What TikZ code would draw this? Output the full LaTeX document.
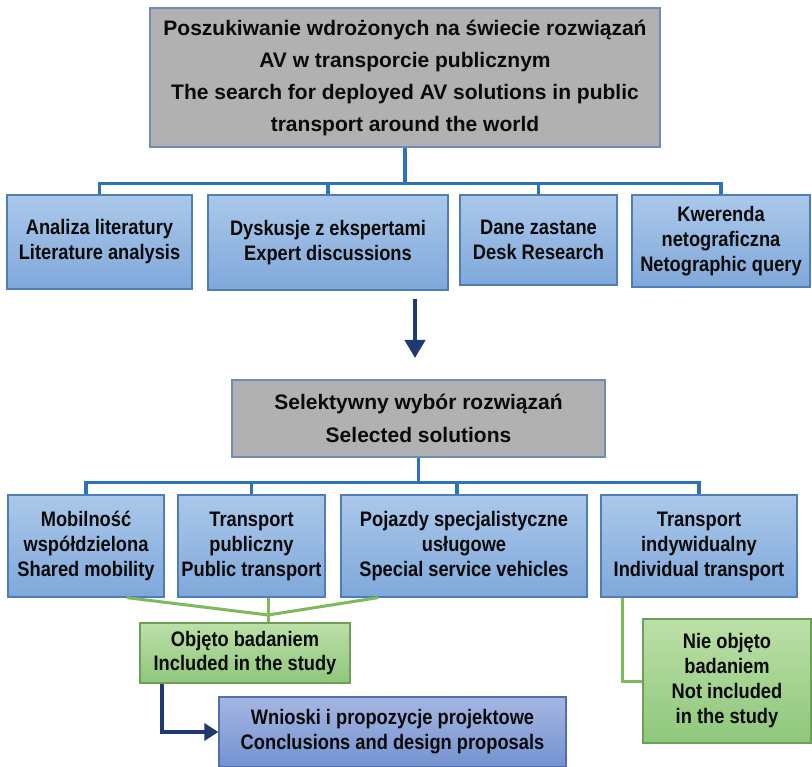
\documentclass[tikz,border=0pt]{standalone}
\usepackage{fontspec}
\setmainfont{Liberation Sans}
\newfontfamily\narrowfont{Liberation Sans}[FakeStretch=0.87]
\usetikzlibrary{arrows.meta,calc}
\definecolor{grayfill}{HTML}{B1B1B1}
\definecolor{grayedge}{HTML}{6F8DB3}
\definecolor{bluetop}{HTML}{ABC8EA}
\definecolor{bluebot}{HTML}{7FA8DA}
\definecolor{blueedge}{HTML}{4F7DB8}
\definecolor{greentop}{HTML}{BCE0A8}
\definecolor{greenbot}{HTML}{8EC77B}
\definecolor{greenedge}{HTML}{6E9F58}
\definecolor{purptop}{HTML}{A5B6E2}
\definecolor{purpbot}{HTML}{7492D0}
\definecolor{purpedge}{HTML}{4F6FAE}
\definecolor{bluewire}{HTML}{2E73B8}
\definecolor{greenwire}{HTML}{7DBA5C}
\definecolor{navy}{HTML}{1F3A6E}
\definecolor{txt}{HTML}{0A0A0A}
\begin{document}
\begin{tikzpicture}[x=1pt,y=-1pt,
  basebox/.style={draw, line width=1.3pt, align=center, text=txt, inner sep=0pt},
  graybox/.style={basebox, fill=grayfill, draw=grayedge, font=\fontsize{21}{32}\selectfont\bfseries},
  bluebox/.style={basebox, top color=bluetop, bottom color=bluebot, draw=blueedge, font=\narrowfont\fontsize{21}{25}\selectfont\bfseries},
  greenbox/.style={basebox, top color=greentop, bottom color=greenbot, draw=greenedge, font=\narrowfont\fontsize{21}{25}\selectfont\bfseries},
  purpbox/.style={basebox, top color=purptop, bottom color=purpbot, draw=purpedge, font=\narrowfont\fontsize{21}{25}\selectfont\bfseries},
  bline/.style={draw=bluewire, line width=3.2pt},
  gline/.style={draw=greenwire, line width=3pt},
  navyarrow/.style={draw=navy, line width=4pt, -{Triangle[length=14pt,width=17pt]}},
  bigarrow/.style={draw=navy, line width=4pt, -{Triangle[length=18pt,width=20pt]}}
]
\useasboundingbox (0,0) rectangle (812,767);
\fill[white] (0,0) rectangle (812,767);

% top box
\node[graybox, minimum width=510pt, minimum height=139pt] (top) at (405,77.5)
  {Poszukiwanie wdrożonych na świecie rozwiązań\\AV w transporcie publicznym\\The search for deployed AV solutions in public\\transport around the world};

% row 1
\node[bluebox, minimum width=185pt, minimum height=94pt] (b1) at (99.5,242) {Analiza literatury\\Literature analysis};
\node[bluebox, minimum width=240pt, minimum height=95pt] (b2) at (328,242.5) {Dyskusje z ekspertami\\Expert discussions};
\node[bluebox, minimum width=157pt, minimum height=90pt] (b3) at (538.5,240) {Dane zastane\\Desk Research};
\node[bluebox, minimum width=178pt, minimum height=92pt] (b4) at (721,241) {Kwerenda\\netograficzna\\Netographic query};

\foreach \b in {b1,b2,b3,b4} {
  \draw[bline] (top.south) -- ++(0,36) -| (\b.north);
}

% arrow
\coordinate (a1) at (415,299);
\coordinate (a2) at (415,358);
\draw[bigarrow] (a1) -- (a2);

% selection box
\node[graybox, minimum width=373pt, minimum height=77pt, font=\fontsize{21}{33}\selectfont\bfseries] (sel) at (418.5,418.5)
  {Selektywny wybór rozwiązań\\Selected solutions};

% row 2
\node[bluebox, minimum width=156pt, minimum height=102pt] (c1) at (86,546) {Mobilność\\współdzielona\\Shared mobility};
\node[bluebox, minimum width=147pt, minimum height=102pt] (c2) at (251.5,546) {Transport\\publiczny\\Public transport};
\node[bluebox, minimum width=246pt, minimum height=102pt] (c3) at (464,546) {Pojazdy specjalistyczne\\usługowe\\Special service vehicles};
\node[bluebox, minimum width=196pt, minimum height=102pt] (c4) at (699,546) {Transport\\indywidualny\\Individual transport};

\draw[bline] (sel.south) -- ++(0,25) -| (c1.north);
\draw[bline] (sel.south) -- ++(0,25) -| (c2.north);
\draw[bline] (sel.south) -- ++(0,25) -| ([xshift=-7pt]c3.north);
\draw[bline] (sel.south) -- ++(0,25) -| (c4.north);

% green boxes
\node[greenbox, minimum width=210pt, minimum height=60pt, font=\narrowfont\fontsize{21}{24}\selectfont\bfseries] (obj) at (245,653) {Objęto badaniem\\Included in the study};
\node[greenbox, minimum width=168pt, minimum height=124pt] (nie) at (727,681) {Nie objęto\\badaniem\\Not included\\in the study};

\coordinate (apex) at (268,615);
\draw[gline] ([xshift=41pt]c1.south) -- (apex);
\draw[gline] ([xshift=-86pt]c3.south) -- (apex);
\draw[gline] ([xshift=16.5pt]c2.south) -- (apex) -- (apex |- obj.north);
\draw[gline] ([xshift=-77pt]c4.south) |- (nie.west);

% conclusions
\node[purpbox, minimum width=347pt, minimum height=70pt] (wn) at (392.5,732) {Wnioski i propozycje projektowe\\Conclusions and design proposals};
\draw[navyarrow] ([xshift=-83pt]obj.south) |- (wn.west);
\end{tikzpicture}
\end{document}
